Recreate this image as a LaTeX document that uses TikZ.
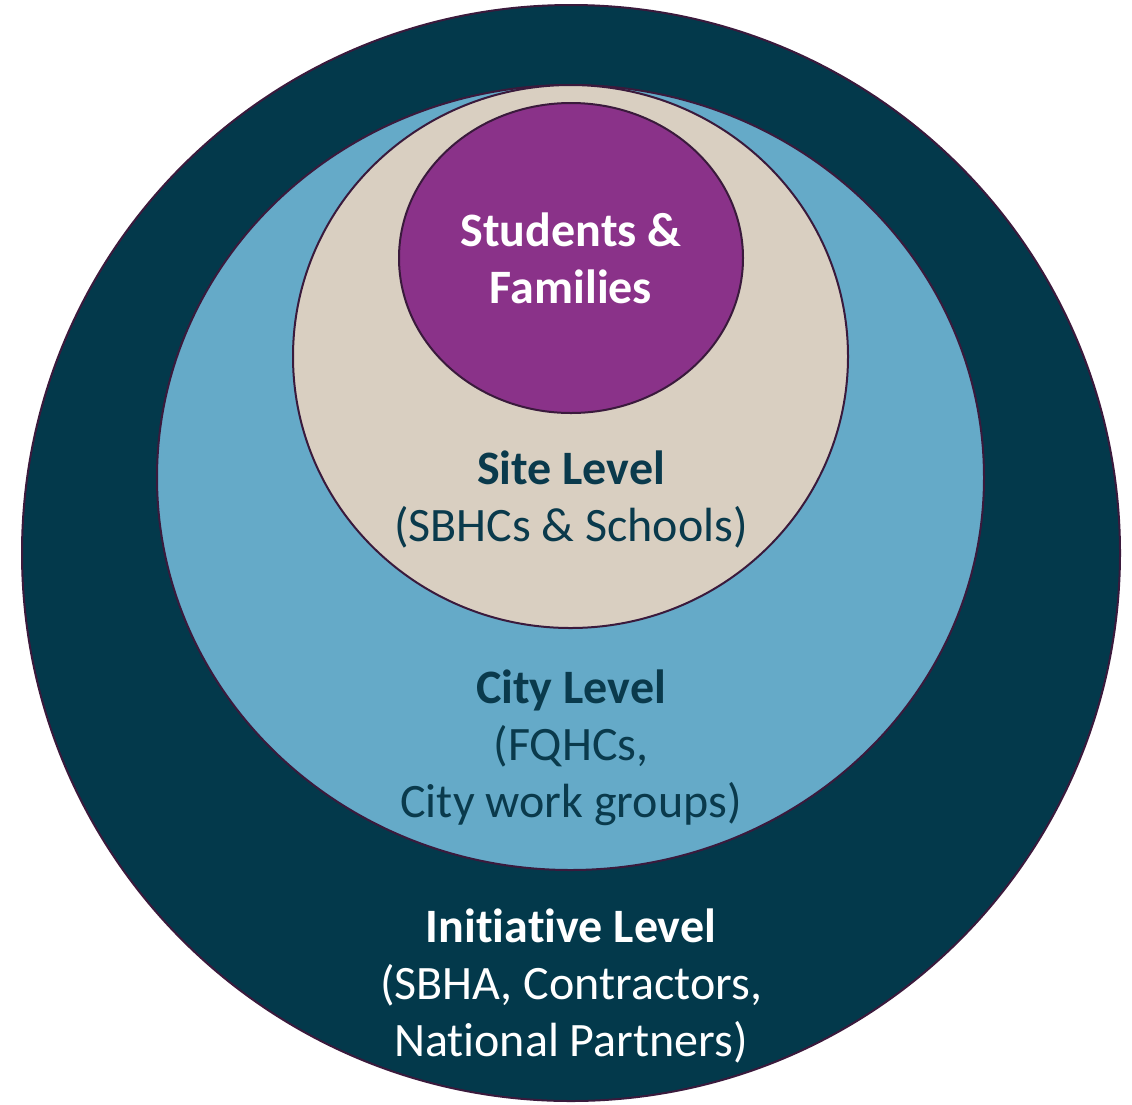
\documentclass[tikz,border=0pt]{standalone}
\usepackage{fontspec}
\setmainfont[Ligatures={NoCommon}]{Carlito}
\definecolor{darkteal}{HTML}{03394B}
\definecolor{lightblue}{HTML}{65AAC8}
\definecolor{beige}{HTML}{D9CFC1}
\definecolor{purp}{HTML}{8A3289}
\definecolor{outline}{HTML}{3A1A3C}
\definecolor{txtdark}{HTML}{0A3A4C}
\begin{document}
\begin{tikzpicture}[x=1pt,y=-1pt,
  ring/.style={draw=outline,line width=2pt},
  lbl/.style={align=center,font=\fontsize{48}{57}\selectfont,inner sep=0pt}]
\useasboundingbox (0,0) rectangle (1132,1104);
\fill[white] (0,0) rectangle (1132,1104);
\path[ring,fill=darkteal] (571,553) ellipse [x radius=549,y radius=548];
\path[ring,fill=lightblue] (570.5,477.5) ellipse [x radius=413.5,y radius=392.5];
\path[ring,fill=beige] (570.5,356.5) ellipse [x radius=277.5,y radius=271.5];
\path[ring,fill=purp] (571,258) ellipse [x radius=172,y radius=155];
\node[lbl,text=white] (students) at (571,258) {\bfseries Students \&\\\bfseries Families};
\node[lbl,text=txtdark] (site) at (571,499) {\bfseries Site Level\\(SBHCs \& Schools)};
\node[lbl,text=txtdark] (city) at (571,748) {\bfseries City Level\\(FQHCs,\\City work groups)};
\node[lbl,text=white] (init) at (571,986) {\bfseries Initiative Level\\(SBHA, Contractors,\\National Partners)};
\end{tikzpicture}
\end{document}
